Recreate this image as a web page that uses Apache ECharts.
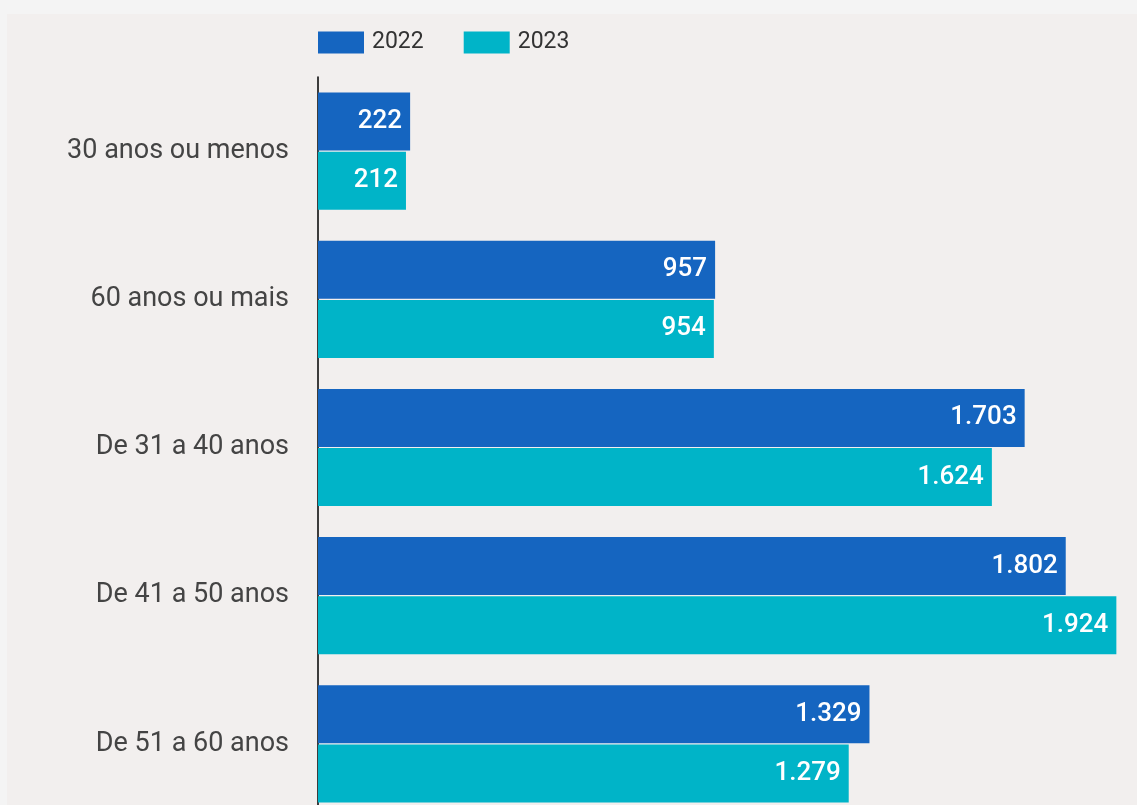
<!DOCTYPE html>
<html>
<head>
<meta charset="utf-8">
<script src="https://cdn.jsdelivr.net/npm/echarts@6/dist/echarts.min.js"></script>
<style>
  html, body { margin: 0; padding: 0; background: #f4f4f4; }
  #chart { position: absolute; left: 7px; top: 14px; width: 1130px; height: 791px; background: #f2efee; }
</style>
</head>
<body>
<div id="chart"></div>
<script>
const categories = ['30 anos ou menos', '60 anos ou mais', 'De 31 a 40 anos', 'De 41 a 50 anos', 'De 51 a 60 anos']
const values2022 = [222, 957, 1703, 1802, 1329]
const values2023 = [212, 954, 1624, 1924, 1279]

const chart = echarts.init(document.getElementById('chart'))

// formato pt-BR: 1.703
const fmt = p => p.value.toLocaleString('pt-BR')

const labelStyle = {
  show: true,
  position: 'insideRight',
  distance: 8,
  color: '#ffffff',
  fontSize: 26,
  fontWeight: 500,
  fontFamily: 'Roboto',
  formatter: fmt,
}

chart.setOption({
  animation: false,
  backgroundColor: '#f2efee',
  legend: {
    left: 311,
    top: 17,
    padding: 0,
    itemWidth: 46,
    itemHeight: 22,
    itemGap: 40,
    icon: 'rect',
    textStyle: { fontSize: 23, color: '#333', fontFamily: 'Roboto', padding: [0, 0, 0, 3] },
    data: ['2022', '2023'],
  },
  grid: { left: 311, top: 63, width: 805, height: 741, outerBoundsMode: 'none', containLabel: false },
  xAxis: {
    type: 'value',
    min: 0,
    max: 1940,
    show: false,
  },
  yAxis: {
    type: 'category',
    inverse: true,
    data: categories,
    axisLine: { show: true, lineStyle: { color: '#000', width: 1.5 } },
    axisTick: { show: false },
    axisLabel: { fontSize: 27, color: '#444', fontFamily: 'Roboto', margin: 29, padding: [3, 0, 0, 0] },
  },
  series: [
    {
      name: '2022',
      type: 'bar',
      data: values2022,
      barWidth: 58,
      barGap: '2%',
      itemStyle: { color: '#1565c0' },
      label: labelStyle,
    },
    {
      name: '2023',
      type: 'bar',
      data: values2023,
      barWidth: 58,
      barGap: '2%',
      itemStyle: { color: '#00b4c8' },
      label: labelStyle,
    },
  ],
})
</script>
</body>
</html>
